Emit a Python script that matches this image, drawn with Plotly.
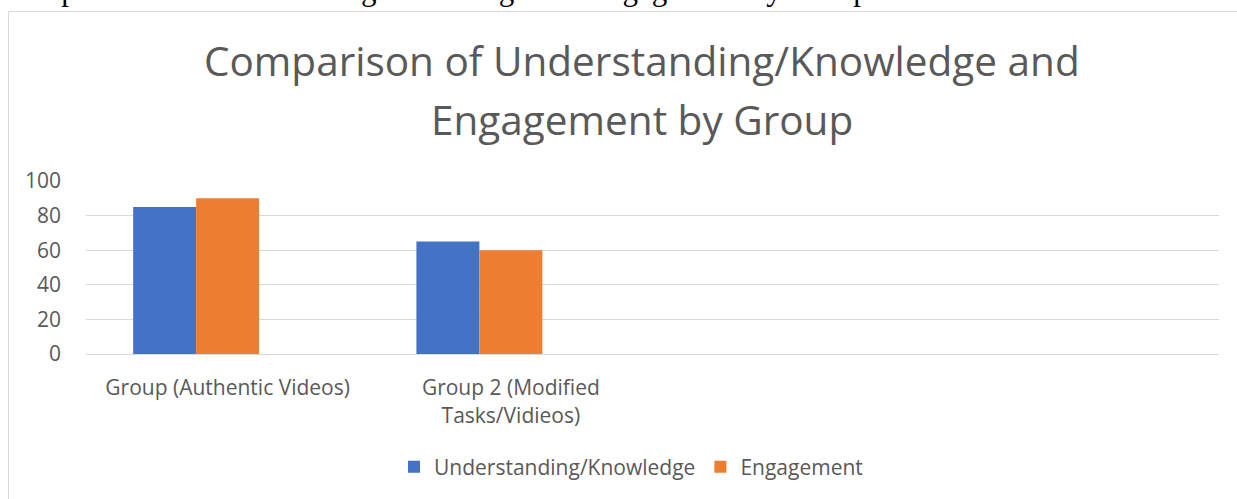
import plotly.graph_objects as go

# ---- data ----
categories = ["Group (Authentic Videos)", "Group 2 (Modified<br>Tasks/Vidieos)"]
understanding = [85, 65]
engagement = [90, 60]
blank_series = [None, None]
y_ticks = [0, 20, 40, 60, 80, 100]

FONT = "Open Sans"
TXT = "#595959"
W, H = 1237, 499
PL, PR, PT, PB = 86, 1219, 181, 354  # plot area pixel box

x_pos = list(range(len(categories)))

def px_x(p):
    return (p - PL) / (PR - PL)

def px_y(p):
    return (PB - p) / (PB - PT)

fig = go.Figure()
fig.add_trace(go.Bar(x=x_pos, y=understanding, name="Understanding/Knowledge",
                     marker=dict(color="#4472C4", line=dict(width=0))))
fig.add_trace(go.Bar(x=x_pos, y=engagement, name="Engagement",
                     marker=dict(color="#ED7D31", line=dict(width=0))))
fig.add_trace(go.Bar(x=x_pos, y=blank_series, name="", showlegend=False,
                     marker=dict(color="#A5A5A5", line=dict(width=0))))

fig.update_layout(
    width=W, height=H,
    margin=dict(l=PL, r=W - PR, t=PT, b=H - PB, autoexpand=False),
    paper_bgcolor="white", plot_bgcolor="white",
    barmode="group", bargap=0.333, bargroupgap=0,
    font=dict(family=FONT, color=TXT, size=21),
    showlegend=True,
    legend=dict(orientation="h", x=px_x(631), xanchor="center",
                xref="paper", y=px_y(467), yanchor="middle",
                font=dict(family=FONT, size=21, color=TXT),
                traceorder="normal", bgcolor="rgba(0,0,0,0)"),
    xaxis=dict(range=[-0.5, 3.5], tickvals=x_pos, ticktext=categories,
               showgrid=False, zeroline=False, showline=True, linecolor="#D9D9D9",
               linewidth=1, ticks="", ticklabelstandoff=15,
               tickfont=dict(family=FONT, size=21, color=TXT)),
    yaxis=dict(range=[0, 100], tickvals=y_ticks, showgrid=True, gridcolor="#D9D9D9",
               gridwidth=1, zeroline=False, showline=False, ticks="",
               ticklabelstandoff=24,
               tickfont=dict(family=FONT, size=21, color=TXT)),
)

# chart title (two lines, Excel-like spacing)
fig.add_annotation(text="Comparison of Understanding/Knowledge and",
                   xref="paper", yref="paper", x=px_x(642), xanchor="center",
                   y=px_y(60), yanchor="middle", showarrow=False,
                   font=dict(family=FONT, size=40.5, color=TXT))
fig.add_annotation(text="Engagement by Group",
                   xref="paper", yref="paper", x=px_x(642), xanchor="center",
                   y=px_y(120), yanchor="middle", showarrow=False,
                   font=dict(family=FONT, size=40.5, color=TXT))

# outer chart border
fig.add_shape(type="rect", xref="paper", yref="paper",
              x0=px_x(8.5), x1=px_x(1300),
              y0=px_y(11.5), y1=px_y(560),
              line=dict(color="#D9D9D9", width=1), fillcolor="rgba(0,0,0,0)", layer="below")

# document text above the chart (clipped at top, as in the source page)
fig.add_annotation(text="Comparison of Understanding/Knowledge and Engagement by Group",
                   xref="paper", yref="paper", x=px_x(-1), xanchor="left",
                   y=px_y(9), yanchor="bottom", showarrow=False,
                   font=dict(family="Liberation Serif", size=31, color="black"))
fig.add_annotation(text="Picture 1",
                   xref="paper", yref="paper", x=px_x(1142), xanchor="left",
                   y=px_y(9), yanchor="bottom", showarrow=False,
                   font=dict(family="Liberation Serif", size=31, color="black"))

fig.write_html("out.html", config=dict(displayModeBar=False),
               post_script="document.body.style.margin='0';document.body.style.overflow='hidden';")
